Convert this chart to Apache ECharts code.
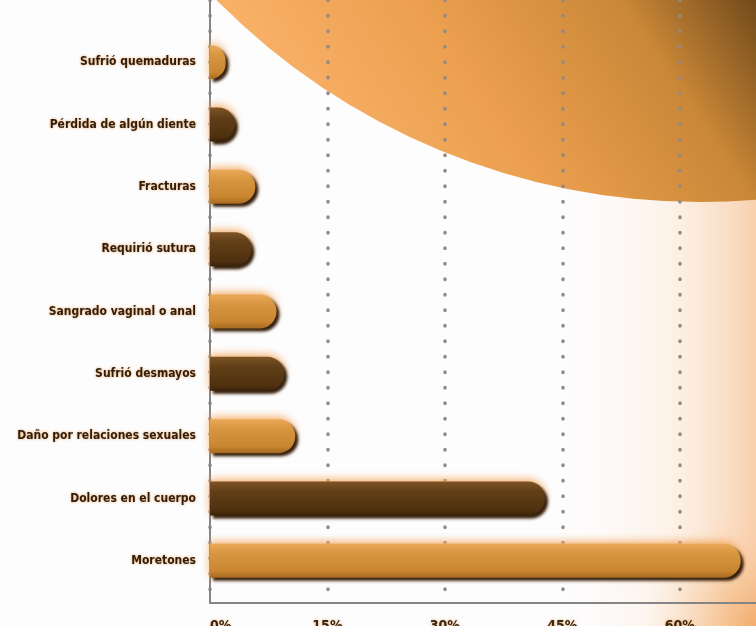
<!DOCTYPE html>
<html>
<head>
<meta charset="utf-8">
<script src="https://cdn.jsdelivr.net/npm/echarts@6/dist/echarts.min.js"></script>
<style>
html,body{margin:0;padding:0;background:#fdfdfe;}
#chart{width:756px;height:626px;}
</style>
</head>
<body>
<div id="chart"></div>
<script>
var categories = [
  'Sufrió quemaduras',
  'Pérdida de algún diente',
  'Fracturas',
  'Requirió sutura',
  'Sangrado vaginal o anal',
  'Sufrió desmayos',
  'Daño por relaciones sexuales',
  'Dolores en el cuerpo',
  'Moretones'
];
var values = [2.0, 3.2, 5.8, 5.3, 8.5, 9.5, 10.9, 42.8, 67.8];
var xTicks = [0, 15, 30, 45, 60];

var lightFill = {type:'linear',x:0,y:0,x2:0,y2:1,colorStops:[
  {offset:0,color:'#eaa958'},{offset:0.3,color:'#d8953f'},{offset:0.8,color:'#c9852f'},{offset:1,color:'#a66a22'}]};
var darkFill = {type:'linear',x:0,y:0,x2:0,y2:1,colorStops:[
  {offset:0,color:'#7d5426'},{offset:0.3,color:'#613e17'},{offset:0.85,color:'#4f310f'},{offset:1,color:'#3a2208'}]};

var mainData = values.map(function(v,i){
  return {value:v, itemStyle:{color: i%2===0 ? lightFill : darkFill}};
});

var chart = echarts.init(document.getElementById('chart'), null, {renderer:'canvas'});
chart.setOption({
  backgroundColor:'#fdfdfe',
  animation:false,
  graphic:[
    {type:'rect', z:-20, silent:true, shape:{x:560,y:0,width:196,height:626},
     style:{fill:{type:'linear',x:0,y:0,x2:1,y2:0,colorStops:[
       {offset:0,color:'rgba(253,240,228,0)'},{offset:0.55,color:'rgba(252,232,212,0.5)'},{offset:1,color:'rgba(248,200,160,0.85)'}]}}},
    {type:'rect', z:-19, silent:true, shape:{x:600,y:500,width:156,height:126},
     style:{fill:{type:'radial',x:1,y:1,r:0.9,colorStops:[
       {offset:0,color:'rgba(240,160,85,0.75)'},{offset:1,color:'rgba(250,210,170,0)'}]}}},
    {type:'circle', z:-10, silent:true, shape:{cx:700, cy:-478, r:680},
     style:{fill:{type:'linear',global:true,x:380,y:230,x2:770,y2:-30,colorStops:[
       {offset:0,color:'#f8b067'},{offset:0.35,color:'#eb9f4e'},{offset:0.7,color:'#c98737'},{offset:1,color:'#5c3b14'}]}}}
  ],
  grid:[
    {left:210, width:548, top:31, height:561, containLabel:false, outerBoundsMode:'none'},
    {left:210, width:548, top:0, height:603, containLabel:false, outerBoundsMode:'none'}
  ],
  xAxis:[
    {gridIndex:0, type:'value', min:0, max:70, show:false},
    {gridIndex:1, type:'value', min:0, max:70, interval:15,
     axisLine:{show:true, lineStyle:{color:'#858585', width:2}},
     axisTick:{show:false},
     axisLabel:{show:true, margin:16, showMaxLabel:false, alignMinLabel:'left',
       formatter:function(v){return xTicks.indexOf(v)>=0 ? v+'%' : '';},
       color:'#3a2814', fontFamily:'DejaVu Sans Condensed', fontWeight:'bold', fontSize:14,
       textShadowColor:'rgba(235,150,70,0.8)', textShadowBlur:3},
     splitLine:{show:true, lineStyle:{color:'#948a84', width:3.5, type:[0.5,15], cap:'round'}}}
  ],
  yAxis:[
    {gridIndex:0, type:'category', data:categories, inverse:true,
     axisLine:{show:false}, axisTick:{show:false}, splitLine:{show:false},
     axisLabel:{margin:14, color:'#2e1e0e', fontFamily:'DejaVu Sans Condensed', fontWeight:'bold', fontSize:12,
       textShadowColor:'rgba(235,150,70,0.9)', textShadowBlur:3}},
    {gridIndex:1, type:'value', min:0, max:1,
     axisLine:{show:true, onZero:false, lineStyle:{color:'#858585', width:2}},
     axisTick:{show:false}, axisLabel:{show:false}, splitLine:{show:false}}
  ],
  series:[
    {type:'bar', xAxisIndex:0, yAxisIndex:0, data:values, barWidth:34, barGap:'-100%', silent:true,
     itemStyle:{color:'#f7c48e', borderRadius:[0,17,17,0], shadowBlur:8, shadowColor:'rgba(242,160,80,0.9)', shadowOffsetY:-2}},
    {type:'bar', xAxisIndex:0, yAxisIndex:0, data:mainData, barWidth:34, barGap:'-100%',
     itemStyle:{borderRadius:[0,17,17,0], shadowBlur:3, shadowColor:'rgba(40,20,3,0.95)', shadowOffsetX:3, shadowOffsetY:3}}
  ]
});
</script>
</body>
</html>
